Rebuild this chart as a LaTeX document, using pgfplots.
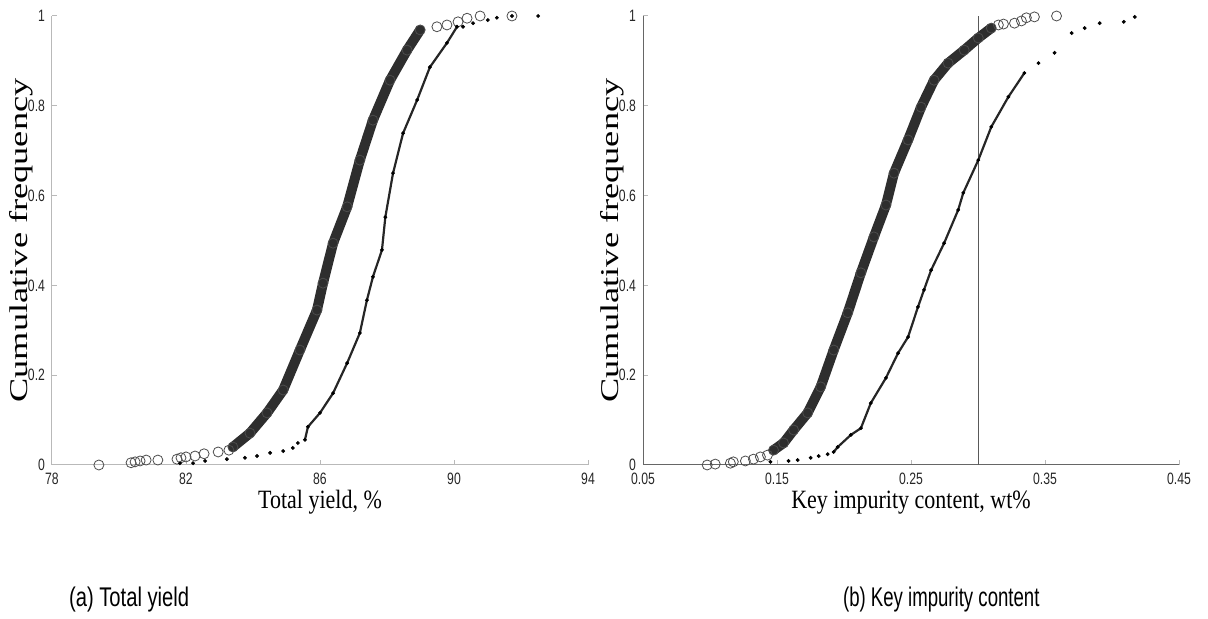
\documentclass[border=0pt]{standalone}
\usepackage{pgfplots}
\pgfplotsset{compat=1.18}
\usepackage{pgfplotstable}
\usepackage{graphicx}
\usepackage{fontspec}
\setmainfont{Liberation Sans}
\newfontfamily\timesfont{Liberation Serif}

% total yield, open circles
\pgfplotstableread{
x y
79.40 0.000
80.36 0.005
80.48 0.007
80.63 0.009
80.81 0.011
81.16 0.011
81.73 0.013
81.85 0.016
82.00 0.018
82.27 0.020
82.54 0.025
82.96 0.029
83.28 0.033
83.40 0.040
83.91 0.071
84.42 0.116
84.90 0.167
85.40 0.256
85.91 0.345
86.09 0.405
86.39 0.494
86.81 0.575
87.19 0.679
87.58 0.768
88.09 0.857
88.60 0.924
88.99 0.969
89.49 0.976
89.79 0.980
90.12 0.987
90.39 0.995
90.78 1.000
91.73 1.000
}\yieldcirc

% total yield, dots
\pgfplotstableread{
x y
81.82 0.004
82.21 0.004
82.57 0.009
83.22 0.013
83.76 0.016
84.12 0.020
84.51 0.027
84.90 0.031
85.19 0.038
85.34 0.049
85.55 0.056
85.64 0.085
86.00 0.116
86.39 0.160
86.81 0.227
87.19 0.294
87.40 0.367
87.58 0.419
87.85 0.479
87.95 0.552
88.18 0.650
88.48 0.739
88.90 0.813
89.28 0.886
89.79 0.940
90.09 0.976
90.27 0.976
90.57 0.984
91.01 0.991
91.28 0.996
91.73 1.000
92.51 1.000
}\yielddot

% impurity, open circles
\pgfplotstableread{
x y
0.0979 0.000
0.1039 0.002
0.1152 0.004
0.1174 0.007
0.1264 0.009
0.1324 0.013
0.1376 0.018
0.1429 0.022
0.1474 0.033
0.1549 0.049
0.1624 0.078
0.1729 0.116
0.1826 0.174
0.1923 0.256
0.2028 0.339
0.2126 0.428
0.2223 0.508
0.2313 0.579
0.2373 0.650
0.2478 0.724
0.2575 0.797
0.2672 0.857
0.2777 0.895
0.2897 0.924
0.3002 0.951
0.3099 0.973
0.3152 0.980
0.3190 0.982
0.3272 0.984
0.3324 0.989
0.3361 0.996
0.3421 0.998
0.3586 1.000
}\impcirc

% impurity, dots
\pgfplotstableread{
x y
0.1451 0.007
0.1586 0.009
0.1654 0.011
0.1751 0.016
0.1811 0.020
0.1878 0.024
0.1923 0.029
0.1953 0.040
0.2051 0.067
0.2126 0.082
0.2200 0.138
0.2313 0.194
0.2403 0.249
0.2478 0.285
0.2552 0.352
0.2597 0.390
0.2650 0.434
0.2747 0.494
0.2852 0.568
0.2890 0.606
0.3002 0.679
0.3099 0.753
0.3227 0.820
0.3346 0.873
0.3451 0.895
0.3571 0.918
0.3699 0.962
0.3796 0.973
0.3908 0.984
0.4088 0.987
0.4170 0.998
}\impdot

\pgfplotsset{
  cdf/.style={
    scale only axis, width=268pt, height=224.5pt,
    ymin=0, ymax=1, ytick={0,0.2,0.4,0.6,0.8,1},
    axis x line*=bottom, axis y line*=left,
    tick align=inside, major tick length=2.5pt,
    tick style={gray!55, line width=0.5pt},
    clip=false,
    /pgf/number format/fixed, /pgf/number format/precision=2,
    /pgf/number format/assume math mode=true,
    tick label style={font=\fontsize{6.1}{7}\selectfont, text=black!85},
    xticklabel={\scalebox{1}[1.35]{\pgfmathprintnumber{\tick}}},
    yticklabel={\scalebox{1}[1.35]{\pgfmathprintnumber{\tick}}},
    x tick label style={yshift=-3pt, inner sep=1pt},
    y tick label style={inner ysep=0.5pt},
    every axis x label/.style={at={(axis description cs:0.5,-0.097)}, anchor=base, inner sep=0pt,
      font=\timesfont\fontsize{11}{13}\selectfont},
    every axis y label/.style={at={(axis description cs:-0.0578,0.5)}, rotate=90, anchor=center,
      font=\timesfont\fontsize{12.8}{14}\selectfont},
  },
  band/.style={line width=5pt, black!82, line cap=round, line join=round, no marks},
  circ/.style={only marks, mark=o, mark size=2.5pt, mark options={black!70, line width=0.4pt}},
  dotline/.style={line width=1.1pt, black!85, line join=round, line cap=round, no marks},
  dots/.style={only marks, mark=*, mark size=0.75pt, black},
}

\begin{document}
\begin{tikzpicture}
\useasboundingbox (-26pt,-77pt) rectangle (578pt,232.5pt);

\begin{axis}[cdf,
  xmin=78, xmax=94, xtick={78,82,86,90,94},
  axis line style={gray!55, line width=0.5pt},
  xlabel={\scalebox{1}[1.2]{Total yield, \%}},
  ylabel={\scalebox{1.42}[1]{Cumulative frequency}},
]
\addplot[band, restrict x to domain=83.4:88.99] table[x=x, y=y] {\yieldcirc};
\addplot[circ] table[x=x, y=y] {\yieldcirc};
\addplot[dotline, restrict x to domain=85.5:90.1] table[x=x, y=y] {\yielddot};
\addplot[dots] table[x=x, y=y] {\yielddot};
\end{axis}

\begin{axis}[cdf, at={(295.5pt,0)},
  xmin=0.05, xmax=0.45, xtick={0.05,0.15,0.25,0.35,0.45},
  axis line style={black!60, line width=0.5pt},
  xlabel={\scalebox{1}[1.2]{Key impurity content, wt\%}},
  ylabel={\scalebox{1.42}[1]{Cumulative frequency}},
]
\addplot[black!65, line width=0.5pt] coordinates {(0.3,0) (0.3,1)};
\addplot[band, restrict x to domain=0.147:0.31] table[x=x, y=y] {\impcirc};
\addplot[circ] table[x=x, y=y] {\impcirc};
\addplot[dotline, restrict x to domain=0.192:0.335] table[x=x, y=y] {\impdot};
\addplot[dots] table[x=x, y=y] {\impdot};
\end{axis}

\node[anchor=base west, font=\fontsize{10}{12}\selectfont] at (5pt,-71pt)
  {\scalebox{1.01}[1.35]{(a) Total yield}};
\node[anchor=base west, font=\fontsize{10}{12}\selectfont] at (392pt,-71pt)
  {\scalebox{0.93}[1.35]{(b) Key impurity content}};
\end{tikzpicture}
\end{document}
